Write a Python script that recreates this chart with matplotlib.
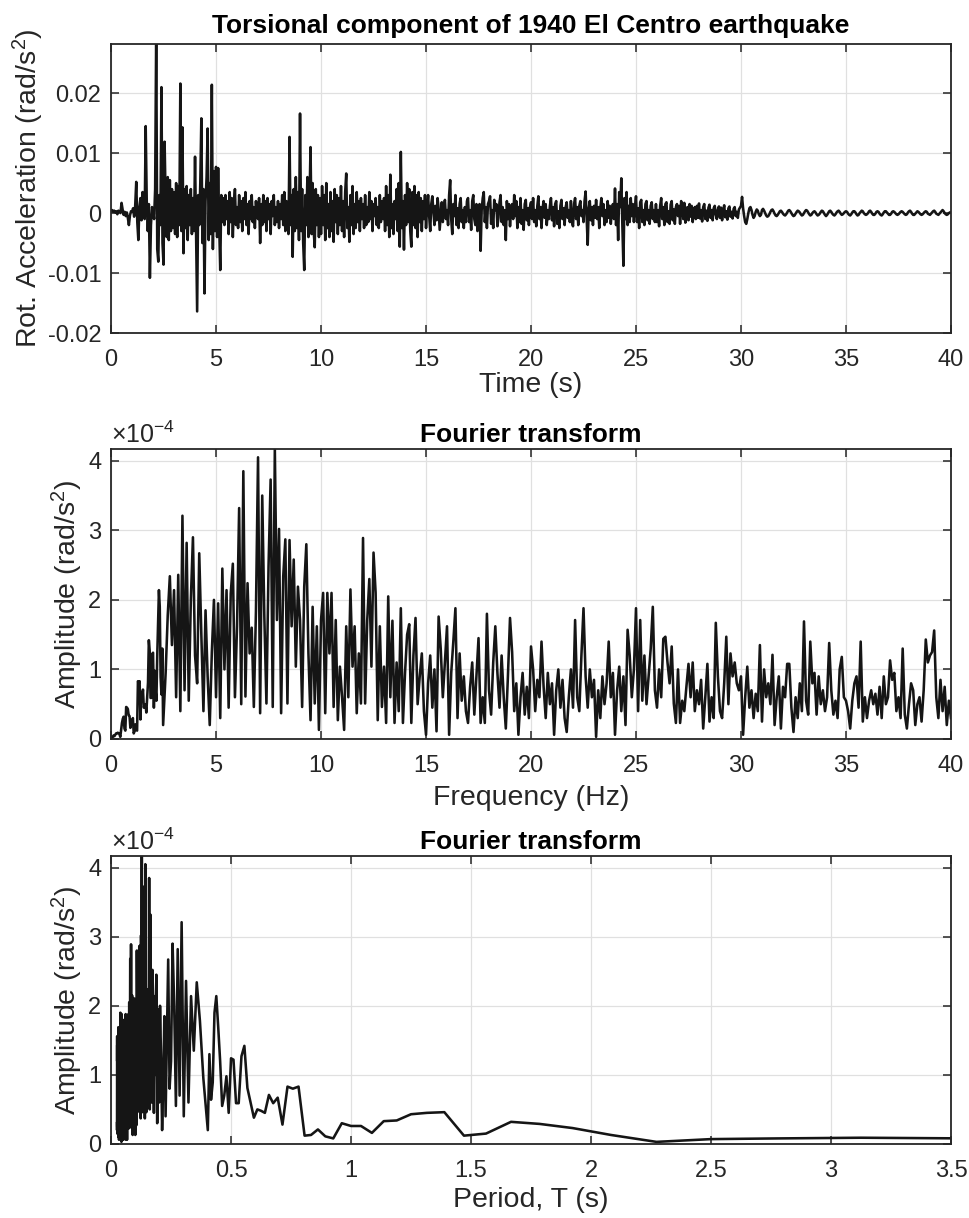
import numpy as np
import matplotlib
matplotlib.use('Agg')
import matplotlib.pyplot as plt
from matplotlib.ticker import FuncFormatter

plt.rcParams['font.family'] = ['Liberation Sans', 'DejaVu Sans']
plt.rcParams['mathtext.fontset'] = 'custom'
plt.rcParams['mathtext.rm'] = 'Liberation Sans'
plt.rcParams['mathtext.it'] = 'Liberation Sans:italic'
plt.rcParams['mathtext.bf'] = 'Liberation Sans:bold'
plt.rcParams['axes.unicode_minus'] = False

# ---------------- data ----------------
# rotational acceleration, units of 1e-4 rad/s^2, sampled every 0.05 s
DT = 0.05
acc_e4 = [
    3, 5, 2, 4, 1, 3, -2, 4, 2, 0, 17, 6, -3, 2, -5, 1, -8, -20, -4, 3,
    2, 8, -6, 12, 52, -15, -45, 10, 25, -12, 35, 5, -10, 145, 20, -30, 15, -108, -20, 10,
    5, -10, 40, 300, -60, -81, 30, -20, 210, -50, -86, 119, 20, -40, 60, -45, 55, -30, 40, -25,
    35, -35, 50, -40, 45, -20, 216, -30, 143, -67, 40, -25, 45, -45, 30, -20, 40, -35, 25, -30,
    94, -40, -164, 30, -20, 50, 158, -50, 40, -134, 20, 60, 141, -45, 50, -35, 214, -60, 70, -30,
    77, -40, 75, -20, -95, 30, -15, 25, -20, 30, -10, 20, -35, 35, -15, 25, -40, 15, 40, -20,
    10, -25, 30, -15, 20, -30, 25, -10, 35, -20, 15, -35, 20, -10, 30, -15, 10, -25, 20, -5,
    -10, 25, -50, 15, -20, 30, -15, 20, -30, 25, -10, 15, -35, 20, -5, 30, -20, 10, -15, 20,
    -25, 15, -10, 30, -20, 35, -30, 20, -15, -35, 127, -20, 30, -73, 40, -30, 60, -25, 35, -45,
    166, -30, 40, -50, -95, 30, -20, 60, -40, 20, 110, -35, 50, -30, -57, 40, -20, 30, -40, 25,
    -35, 45, -20, 30, -45, 50, -25, 15, -40, 35, -30, 20, -48, 40, -15, 30, -35, 25, -20, 45,
    -30, 20, -40, 35, 66, -25, 10, -48, 30, -20, 45, -35, 15, -25, 35, -15, 20, -30, 25, -10,
    15, -25, 30, -20, 10, -15, 35, -10, 20, -30, 15, -5, 25, -20, 10, -25, 30, -15, 20, -10,
    25, -30, 45, -20, 30, -40, 64, -25, 15, -35, 20, -10, 40, -30, 50, -56, 102, -25, 20, -61,
    30, -20, 50, -15, 40, -30, -56, 35, -20, 45, -25, 30, -40, 35, -15, 25, -30, 20, -10, 30,
    -25, 10, 30, -5, -30, 15, 28, 5, -20, 12, -12, 25, 8, -28, -5, 18, -15, 10, 22, -10,
    5, -20, 30, 55, -10, -35, 15, -5, 30, -20, 8, -25, 15, 25, -15, 5, -25, 10, -15, 20,
    25, -15, 5, -28, 20, 30, -10, -20, 15, -30, 10, 15, -63, 5, 25, 35, -15, 10, -25, 15,
    20, 28, -18, 5, -25, 22, 5, 15, -22, -8, 18, 30, -15, 10, -20, 5, -45, 20, -10, 15,
    -22, 5, 15, -10, 30, -5, 20, -25, 10, -15, 25, -18, 5, -28, 15, 22, -12, 8, -20, 10,
    18, -10, 25, -15, 5, -22, 12, 28, -10, 10, -25, 8, 20, -8, 15, -20, 5, -10, 12, 25,
    -12, 10, -22, 15, 20, -18, 3, -25, 12, 22, -10, 8, -20, 10, 18, -8, 5, -15, 20, -15,
    -22, 15, 25, -10, 10, -20, 12, 20, -5, 5, -15, 20, 36, -10, -53, 8, 20, -12, 10, -20,
    12, -8, 22, -10, 10, -25, 8, 25, -5, 15, -20, 5, -15, 20, -8, 12, -18, 5, 15, -10,
    41, -20, 15, -45, 35, 10, 58, -20, -88, 25, -10, 35, -20, 12, -15, 25, -5, 15, -15, 10,
    28, -15, 8, -25, 18, 22, -15, 5, -20, 15, 20, -12, 5, -18, 12, 18, -10, 5, -15, 15,
    -15, 5, -22, 12, 25, -10, 10, -20, 15, 18, -15, 3, -18, 14, 20, -12, 6, -18, 10, 15,
    -5, 12, -18, 20, 8, -10, 17, -16, 5, 10, -12, 15, -6, 12, -15, 4, 10, -10, 12, -8,
    16, -9, 5, -14, 10, 15, -10, 4, -13, 9, 14, -8, 5, -12, 8, 12, -3, -10, 6, 11,
    -8, 9, -12, 4, 13, -7, 3, -11, 8, 11, -6, 2, -9, 7, 10, -5, 2, -8, 6, 9,
    12, 27, 8, -5, -15, -18, -10, 0, 8, 10, 5, -3, -8, -5, 2, 6, 4, -2, -5, -3,
    5, 7, 4, 0, -4, -6, -5, -2, 2, 5, 6, 3, -1, -4, -5, -3, 0, 3, 4, 2,
    -1, -3, -4, -2, 1, 4, 5, 3, 0, -3, -5, -4, -1, 2, 4, 3, 1, -2, -4, -3,
    0, 3, 5, 4, 1, -2, -4, -3, 0, 2, 3, 1, -2, -4, -3, -1, 2, 4, 3, 0,
    -3, -5, -3, 0, 3, 4, 2, -1, -3, -4, -2, 1, 3, 4, 2, -1, -3, -2, 0, 2,
    3, 2, -1, -3, -4, -2, 1, 3, 3, 1, -2, -4, -3, 0, 2, 4, 3, 0, -2, -3,
    -2, 0, 3, 4, 2, -1, -3, -3, -1, 2, 3, 2, -1, -3, -4, -2, 1, 3, 3, 1,
    -1, -3, -3, -1, 2, 3, 2, 0, -2, -3, -2, 0, 2, 3, 2, 0, -2, -3, -2, 1,
    3, 4, 2, -1, -3, -3, -1, 1, 3, 2, 0, -2, -3, -2, 0, 2, 3, 2, -1, -2,
    -3, -1, 1, 3, 4, 2, -1, -2, -3, -1, 1, 3, 5, 3, 0, -2, -3, -2, 0, 1,
]

# Fourier amplitude, units of 1e-6 rad/s^2
# low band: 0 .. 2.48 Hz every 0.04 Hz
DF_LO = 0.04
amp_lo_e6 = [
    1, 2, 3, 5, 4, 6, 8, 8, 9, 8, 7, 3, 13, 23, 29, 32, 15, 12, 46, 45,
    43, 34, 33, 16, 26, 26, 30, 8, 11, 21, 13, 12, 83, 80, 83, 28, 67, 59, 71, 45,
    48, 50, 38, 60, 81, 142, 127, 59, 59, 122, 124, 45, 98, 70, 55, 120, 170, 214, 190, 89,
    64, 130, 20,
]
# high band: 2.6 .. 40.0 Hz every 0.1 Hz
F_HI_START = 2.6
DF_HI = 0.1
amp_hi_e6 = [
    95, 178, 234, 135, 214,
    60, 236, 40, 321, 70, 282, 55, 200, 290, 120,
    80, 267, 150, 40, 185, 90, 20, 125, 200, 60,
    195, 30, 245, 100, 214, 45, 209, 252, 60, 162,
    332, 50, 385, 61, 224, 123, 160, 46, 183, 405,
    37, 350, 176, 51, 248, 373, 46, 417, 171, 302,
    37, 234, 287, 51, 286, 162, 258, 104, 219, 171,
    46, 219, 280, 123, 27, 190, 51, 162, 13, 171,
    210, 37, 210, 123, 210, 46, 171, 27, 104, 61,
    13, 162, 60, 215, 104, 162, 37, 123, 51, 289,
    51, 171, 230, 104, 268, 210, 27, 162, 46, 104,
    23, 205, 60, 170, 23, 110, 40, 188, 23, 95,
    150, 165, 23, 120, 174, 50, 90, 123, 40, 6,
    80, 120, 45, 100, 11, 176, 130, 60, 110, 162,
    6, 95, 140, 188, 30, 123, 55, 90, 40, 23,
    75, 110, 35, 90, 145, 23, 60, 23, 180, 70,
    35, 110, 162, 95, 45, 120, 60, 15, 90, 174,
    125, 40, 80, 6, 60, 95, 35, 75, 30, 133,
    100, 40, 85, 60, 140, 75, 30, 95, 50, 80,
    6, 70, 100, 45, 85, 30, 10, 60, 100, 45,
    171, 60, 40, 120, 188, 90, 45, 100, 60, 85,
    3, 70, 30, 90, 50, 80, 140, 60, 95, 6,
    70, 104, 40, 90, 20, 157, 120, 60, 100, 188,
    40, 171, 55, 120, 50, 90, 130, 190, 70, 45,
    100, 60, 144, 147, 110, 80, 133, 51, 23, 100,
    23, 55, 40, 75, 108, 60, 110, 40, 70, 50,
    85, 15, 60, 108, 25, 60, 30, 167, 90, 40,
    30, 80, 147, 50, 123, 90, 110, 80, 70, 90,
    6, 60, 104, 45, 70, 30, 65, 40, 135, 25,
    100, 60, 80, 50, 121, 20, 60, 90, 15, 75,
    60, 108, 108, 45, 10, 60, 30, 80, 40, 169,
    55, 35, 140, 80, 95, 35, 90, 50, 70, 40,
    60, 138, 70, 35, 55, 30, 100, 118, 60, 55,
    40, 15, 55, 80, 90, 45, 140, 25, 60, 30,
    55, 70, 50, 65, 35, 75, 30, 90, 50, 60,
    113, 85, 95, 40, 60, 30, 130, 35, 15, 50,
    80, 70, 20, 50, 60, 25, 70, 143, 110, 120,
    125, 156, 60, 30, 85, 40, 75, 20, 55, 30,
]

time_ticks = [0, 5, 10, 15, 20, 25, 30, 35, 40]
acc_ticks = [-0.02, -0.01, 0, 0.01, 0.02]
freq_ticks = [0, 5, 10, 15, 20, 25, 30, 35, 40]
amp_ticks = [0, 1e-4, 2e-4, 3e-4, 4e-4]
period_ticks = [0, 0.5, 1, 1.5, 2, 2.5, 3, 3.5]

# ---------------- derived ----------------
acc = np.array(acc_e4) * 1e-4
t = np.arange(len(acc)) * DT
f_lo = np.arange(len(amp_lo_e6)) * DF_LO
f_hi = F_HI_START + np.arange(len(amp_hi_e6)) * DF_HI
freq = np.concatenate([f_lo, f_hi])
amp = np.concatenate([amp_lo_e6, amp_hi_e6]) * 1e-6
pos = freq > 0
period = 1.0 / freq[pos]
amp_p = amp[pos]

# ---------------- style ----------------
LINE_C = '#151515'
AX_C = '#262626'
LW = 1.85
TICK_FS = 17
LABEL_FS = 20.5
TITLE_FS = 19

fig = plt.figure(figsize=(9.69, 12.18), dpi=100)
L, W = 0.1146, 0.8668
ax1 = fig.add_axes([L, 0.7266, W, 0.2373])
ax2 = fig.add_axes([L, 0.3933, W, 0.2381])
ax3 = fig.add_axes([L, 0.0608, W, 0.2365])

fmt_g = FuncFormatter(lambda v, p: '%g' % round(v, 8))
fmt_e4 = FuncFormatter(lambda v, p: '%g' % round(v * 1e4, 6))


def style(ax):
    ax.set_axisbelow(True)
    ax.grid(True, color='#e0e0e0', lw=0.9)
    for s in ax.spines.values():
        s.set_linewidth(1.3)
        s.set_color(AX_C)
    ax.tick_params(direction='in', top=True, right=True, length=5.5, width=1.1,
                   colors=AX_C, labelsize=TICK_FS)
    ax.tick_params(axis='x', pad=11.5)
    ax.tick_params(axis='y', pad=7)


# panel 1
ax1.plot(t, acc, color=LINE_C, lw=LW)
ax1.set_xlim(0, 40)
ax1.set_ylim(-0.02, 0.0282)
ax1.set_xticks(time_ticks)
ax1.set_yticks(acc_ticks)
ax1.xaxis.set_major_formatter(fmt_g)
ax1.yaxis.set_major_formatter(fmt_g)
style(ax1)
ax1.set_xlabel('Time (s)', fontsize=LABEL_FS, color=AX_C, labelpad=1)
ax1.set_ylabel('Rot. Acceleration (rad/s$^{2}$)', fontsize=LABEL_FS, color=AX_C, labelpad=1)
ax1.set_title('Torsional component of 1940 El Centro earthquake', fontsize=TITLE_FS,
              fontweight='bold', pad=8)

# panel 2
ax2.plot(freq, amp, color=LINE_C, lw=LW)
ax2.set_xlim(0, 40)
ax2.set_ylim(0, 4.17e-4)
ax2.set_xticks(freq_ticks)
ax2.set_yticks(amp_ticks)
ax2.xaxis.set_major_formatter(fmt_g)
ax2.yaxis.set_major_formatter(fmt_e4)
style(ax2)
ax2.set_xlabel('Frequency (Hz)', fontsize=LABEL_FS, color=AX_C, labelpad=6)
ax2.set_ylabel('Amplitude (rad/s$^{2}$)', fontsize=LABEL_FS, color=AX_C, labelpad=2)
ax2.set_title('Fourier transform', fontsize=TITLE_FS, fontweight='bold', pad=5)
ax2.text(0.0, 1.004, '\u00d710$^{-4}$', transform=ax2.transAxes, fontsize=18,
         color=AX_C, ha='left', va='bottom')

# panel 3
ax3.plot(period, amp_p, color=LINE_C, lw=LW)
ax3.set_xlim(0, 3.5)
ax3.set_ylim(0, 4.17e-4)
ax3.set_xticks(period_ticks)
ax3.set_yticks(amp_ticks)
ax3.xaxis.set_major_formatter(fmt_g)
ax3.yaxis.set_major_formatter(fmt_e4)
style(ax3)
ax3.set_xlabel('Period, T (s)', fontsize=LABEL_FS, color=AX_C, labelpad=4)
ax3.set_ylabel('Amplitude (rad/s$^{2}$)', fontsize=LABEL_FS, color=AX_C, labelpad=2)
ax3.set_title('Fourier transform', fontsize=TITLE_FS, fontweight='bold', pad=5)
ax3.text(0.0, 1.004, '\u00d710$^{-4}$', transform=ax3.transAxes, fontsize=18,
         color=AX_C, ha='left', va='bottom')

fig.savefig('out.png', dpi=100)
